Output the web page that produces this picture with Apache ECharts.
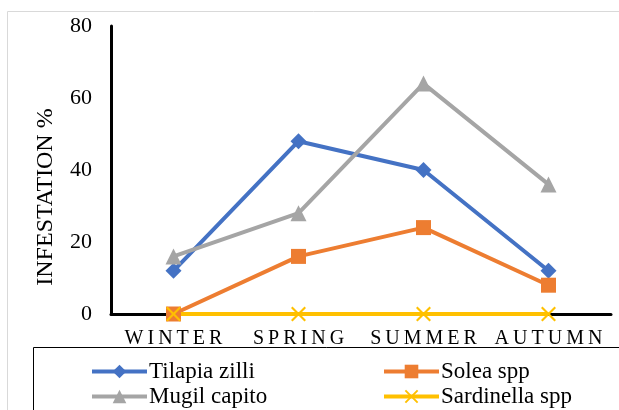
<!DOCTYPE html>
<html>
<head>
<meta charset="utf-8">
<script src="https://cdn.jsdelivr.net/npm/echarts@6/dist/echarts.min.js"></script>
<style>
  html, body { margin: 0; padding: 0; background: #fff; }
  #chart { width: 619px; height: 410px; }
</style>
</head>
<body>
<div id="chart"></div>
<script>
const seasons = ['WINTER', 'SPRING', 'SUMMER', 'AUTUMN']
const tilapia = [12, 48, 40, 12]
const solea = [0, 16, 24, 8]
const mugil = [16, 28, 64, 36]
const sardinella = [0, 0, 0, 0]

const font = '"Liberation Serif", "Times New Roman", serif'
const crossPath = 'path://M0,1L1,0L5,4L9,0L10,1L6,5L10,9L9,10L5,6L1,10L0,9L4,5Z'

const chart = echarts.init(document.getElementById('chart'))

const mkSeries = (name, data, color, symbol, size) => ({
  name,
  type: 'line',
  data,
  symbol,
  symbolSize: size,
  showSymbol: true,
  lineStyle: { color, width: 4 },
  itemStyle: { color, borderWidth: 0 },
  emphasis: { disabled: true },
  animation: false
})

const legendBase = {
  orient: 'vertical',
  itemWidth: 55,
  itemHeight: 17,
  itemGap: 2,
  padding: 0,
  width: 260,
  height: 100,
  lineStyle: { width: 4 },
  textStyle: { fontFamily: font, fontSize: 23, color: '#000', padding: [0, 0, 0, -3] }
}

chart.setOption({
  animation: false,
  graphic: [
    { type: 'rect', shape: { x: 7.5, y: 11.5, width: 640, height: 420 },
      style: { fill: 'none', stroke: '#d9d9d9', lineWidth: 1 }, z: -1 },
    { type: 'rect', shape: { x: 33.5, y: 347.5, width: 620, height: 80 },
      style: { fill: 'none', stroke: '#000', lineWidth: 1 }, z: -1 }
  ],
  grid: { left: 111, right: 8, top: 26, bottom: 96 },
  xAxis: {
    type: 'category',
    data: seasons,
    boundaryGap: true,
    axisLine: { lineStyle: { color: '#000', width: 3 } },
    axisTick: { show: false },
    axisLabel: {
      interval: 0,
      fontFamily: font, fontSize: 20, color: '#000', margin: 15,
      formatter: v => v.split('').join('\u2009')
    }
  },
  yAxis: {
    type: 'value',
    min: 0, max: 80, interval: 20,
    name: 'INFESTATION %',
    nameLocation: 'middle',
    nameGap: 53,
    nameTextStyle: { fontFamily: font, fontSize: 24, color: '#000', padding: [0, 54, 0, 0] },
    axisLine: { show: true, lineStyle: { color: '#000', width: 3 } },
    axisTick: { show: false },
    splitLine: { show: false },
    axisLabel: { fontFamily: font, fontSize: 22, color: '#000', margin: 19 }
  },
  legend: [
    Object.assign({}, legendBase, { left: 90, top: 360, data: ['Tilapia zilli', 'Mugil capito'] }),
    Object.assign({}, legendBase, { left: 382, top: 360, data: ['Solea spp', 'Sardinella spp'] })
  ],
  series: [
    mkSeries('Tilapia zilli', tilapia, '#4472C4', 'diamond', 16),
    mkSeries('Solea spp', solea, '#ED7D31', 'rect', 15),
    mkSeries('Mugil capito', mugil, '#A5A5A5', 'triangle', 16),
    mkSeries('Sardinella spp', sardinella, '#FFC000', crossPath, 15)
  ]
})
</script>
</body>
</html>
